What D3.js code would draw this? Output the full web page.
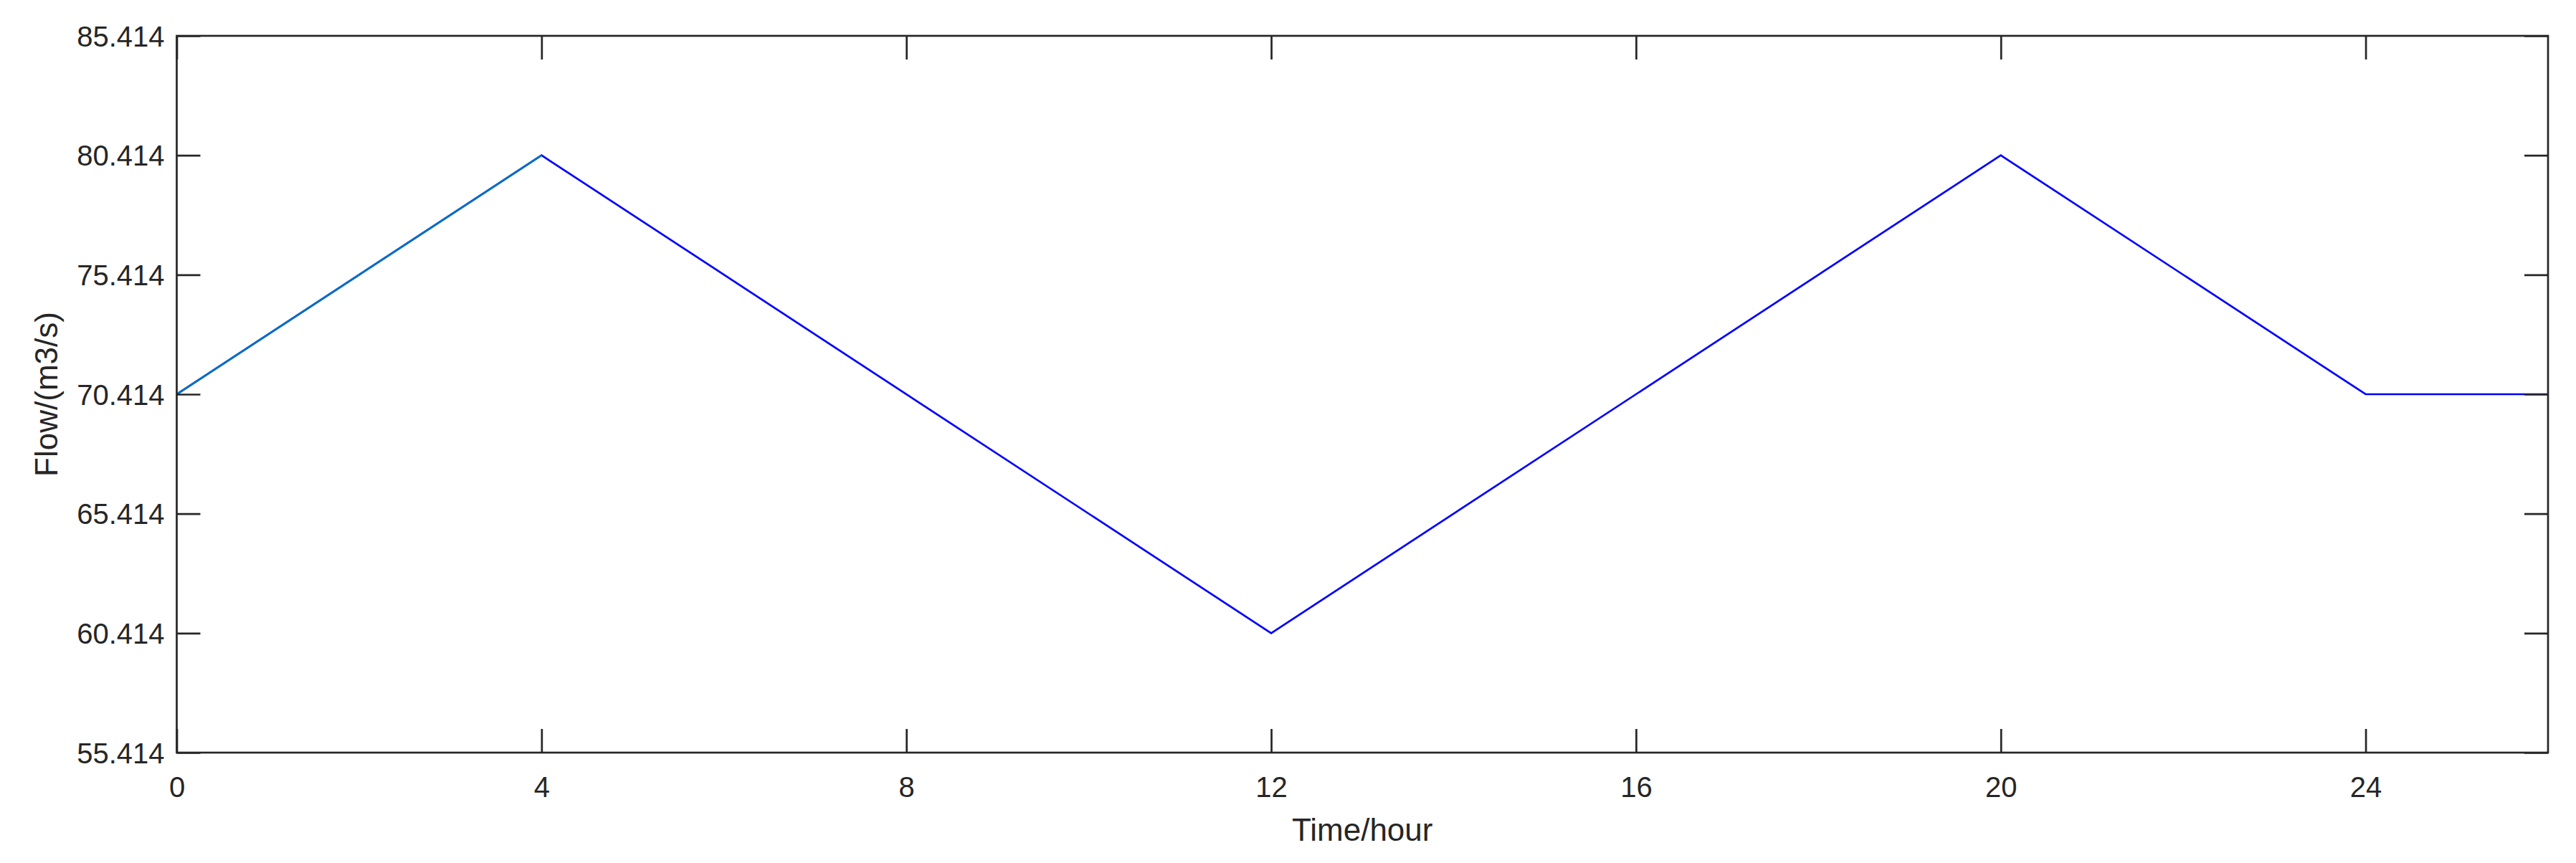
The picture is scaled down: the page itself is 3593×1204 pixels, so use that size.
<!DOCTYPE html>
<html>
<head>
<meta charset="utf-8">
<script src="https://cdn.jsdelivr.net/npm/d3@7"></script>
<style>
    html, body { margin: 0; padding: 0; background: #fff; }
    svg { display: block; font-family: "Liberation Sans", Arial, sans-serif; }
</style>
</head>
<body>
<div id="chart"></div>
<script>
// data
const hours = [0, 4, 12, 20, 24, 26];
const flow = [70.414, 80.414, 60.414, 80.414, 70.414, 70.414];
// first leg is drawn in a second colour on top
const firstHours = [0, 4];
const firstFlow = [70.414, 80.414];

const xTicks = [0, 4, 8, 12, 16, 20, 24];
const yTicks = [55.414, 60.414, 65.414, 70.414, 75.414, 80.414, 85.414];

const width = 3593, height = 1204;
const margin = {top: 50, right: 39, bottom: 154, left: 246.5};
const innerW = width - margin.left - margin.right;
const innerH = height - margin.top - margin.bottom;
const axisColor = "#262626";
const tickLen = 33;

const svg = d3.select("#chart").append("svg")
    .attr("width", width)
    .attr("height", height);

const g = svg.append("g")
    .attr("transform", `translate(${margin.left}, ${margin.top})`);

const x = d3.scaleLinear().domain([0, 26]).range([0, innerW]);
const y = d3.scaleLinear().domain([55.414, 85.414]).range([innerH, 0]);

// data lines first so the frame sits on top
const line = d3.line()
    .x(d => x(d[0]))
    .y(d => y(d[1]));

g.append("path")
    .datum(d3.zip(hours, flow))
    .attr("d", line)
    .attr("fill", "none")
    .attr("stroke", "#0000ff")
    .attr("stroke-width", 2.7)
    .attr("stroke-linejoin", "miter");

g.append("path")
    .datum(d3.zip(firstHours, firstFlow))
    .attr("d", line)
    .attr("fill", "none")
    .attr("stroke", "#0072bd")
    .attr("stroke-width", 2.7);

function styleAxis(sel, showLabels) {
    sel.select(".domain").remove();
    sel.selectAll(".tick line")
        .attr("stroke", axisColor)
        .attr("stroke-width", 2.7);
    sel.selectAll(".tick text")
        .attr("fill", axisColor)
        .attr("font-size", 40)
        .style("display", showLabels ? null : "none");
}

// bottom axis, ticks pointing inward
const xAxis = g.append("g")
    .attr("transform", `translate(0, ${innerH})`)
    .call(d3.axisBottom(x).tickValues(xTicks).tickSizeInner(-tickLen).tickSizeOuter(0).tickPadding(0));
styleAxis(xAxis, true);
xAxis.selectAll(".tick text").attr("dy", null).attr("y", 62);

// top mirror
const xTop = g.append("g")
    .call(d3.axisTop(x).tickValues(xTicks).tickSizeInner(-tickLen).tickSizeOuter(0));
styleAxis(xTop, false);

// left axis
const yAxis = g.append("g")
    .call(d3.axisLeft(y).tickValues(yTicks).tickSizeInner(-tickLen).tickSizeOuter(0).tickFormat(d3.format(".3f")));
styleAxis(yAxis, true);
yAxis.selectAll(".tick text").attr("dy", null).attr("x", -17).attr("y", 14);

// right mirror
const yRight = g.append("g")
    .attr("transform", `translate(${innerW}, 0)`)
    .call(d3.axisRight(y).tickValues(yTicks).tickSizeInner(-tickLen).tickSizeOuter(0));
styleAxis(yRight, false);

// frame
g.append("rect")
    .attr("x", 0)
    .attr("y", 0)
    .attr("width", innerW)
    .attr("height", innerH)
    .attr("fill", "none")
    .attr("stroke", axisColor)
    .attr("stroke-width", 2.7);

// axis titles
svg.append("text")
    .attr("x", margin.left + innerW / 2)
    .attr("y", 1173)
    .attr("text-anchor", "middle")
    .attr("font-size", 44)
    .attr("fill", axisColor)
    .text("Time/hour");

svg.append("text")
    .attr("transform", `translate(80, ${margin.top + innerH / 2}) rotate(-90)`)
    .attr("text-anchor", "middle")
    .attr("font-size", 44)
    .attr("fill", axisColor)
    .text("Flow/(m3/s)");
</script>
</body>
</html>
